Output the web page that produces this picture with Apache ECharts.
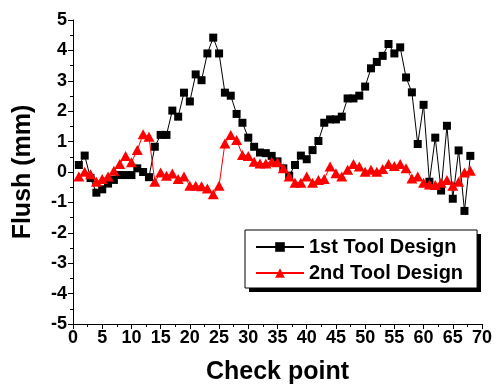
<!DOCTYPE html>
<html>
<head>
<meta charset="utf-8">
<script src="https://cdn.jsdelivr.net/npm/echarts@6/dist/echarts.min.js"></script>
<style>
html,body{margin:0;padding:0;background:#fff;}
#chart{width:496px;height:389px;}
</style>
</head>
<body>
<div id="chart"></div>
<script>
var checkPoints = [];
for (var i = 1; i <= 68; i++) checkPoints.push(i);

var tool1 = [0.23,0.54,-0.2,-0.68,-0.57,-0.38,-0.26,-0.1,-0.1,-0.1,
  0.12,0.0,-0.17,0.83,1.22,1.22,2.02,1.82,2.61,2.32,
  3.21,3.02,3.9,4.42,3.9,2.61,2.51,1.91,1.62,1.13,
  0.83,0.64,0.62,0.53,0.35,0.12,-0.12,0.23,0.54,0.42,
  0.72,1.02,1.62,1.73,1.73,1.82,2.42,2.42,2.51,2.81,
  3.41,3.62,3.82,4.21,3.9,4.1,3.11,2.62,0.92,2.21,
  -0.32,1.13,-0.61,1.52,-0.88,0.71,-1.28,0.53];

var tool2 = [-0.15,0.01,-0.07,-0.32,-0.23,-0.15,0.04,0.26,0.53,0.32,
  0.72,1.24,1.16,-0.32,-0.02,-0.12,-0.05,-0.23,-0.15,-0.45,
  -0.45,-0.47,-0.54,-0.73,-0.45,0.94,1.22,1.05,0.56,0.53,
  0.34,0.28,0.28,0.34,0.32,0.12,-0.15,-0.35,-0.35,-0.15,
  -0.35,-0.26,-0.23,0.18,-0.04,-0.15,0.07,0.26,0.18,0.01,
  0.07,0.01,0.1,0.26,0.2,0.26,0.12,-0.21,-0.15,-0.35,
  -0.41,-0.43,-0.35,-0.26,-0.45,-0.32,-0.02,0.04];

var seriesNames = ['1st Tool Design', '2nd Tool Design'];
var xTickMin = 0, xTickMax = 70, xTickStep = 5;
var yTickMin = -5, yTickMax = 5, yTickStep = 1;

function pairs(vals) {
  return checkPoints.map(function (x, i) { return [x, vals[i]]; });
}

var font = 'Liberation Sans, Arial, sans-serif';
var chart = echarts.init(document.getElementById('chart'), null, {renderer: 'canvas'});
chart.setOption({
  animation: false,
  backgroundColor: '#ffffff',
  grid: {left: 73, right: 14, top: 20, bottom: 65, containLabel: false, outerBoundsMode: 'none'},
  graphic: [{
    type: 'rect', left: 249, top: 234, z: 1, silent: true,
    shape: {width: 232, height: 58},
    style: {fill: '#000'}
  }],
  xAxis: {
    type: 'value', min: xTickMin, max: xTickMax, interval: xTickStep,
    name: 'Check point', nameLocation: 'middle', nameGap: 36,
    nameTextStyle: {fontFamily: font, fontWeight: 'bold', fontSize: 25, color: '#000'},
    axisLine: {show: true, onZero: false, lineStyle: {color: '#000', width: 1}},
    axisTick: {show: true, inside: false, length: 5, lineStyle: {color: '#000'}},
    minorTick: {show: true, splitNumber: 2, length: 3, lineStyle: {color: '#000'}},
    splitLine: {show: false},
    axisLabel: {fontFamily: font, fontWeight: 'bold', fontSize: 18, color: '#000', margin: 5}
  },
  yAxis: {
    type: 'value', min: yTickMin, max: yTickMax, interval: yTickStep,
    name: 'Flush (mm)', nameLocation: 'middle', nameGap: 37,
    nameTextStyle: {fontFamily: font, fontWeight: 'bold', fontSize: 25, color: '#000'},
    axisLine: {show: true, onZero: false, lineStyle: {color: '#000', width: 1}},
    axisTick: {show: true, inside: false, length: 5, lineStyle: {color: '#000'}},
    minorTick: {show: true, splitNumber: 2, length: 3, lineStyle: {color: '#000'}},
    splitLine: {show: false},
    axisLabel: {fontFamily: font, fontWeight: 'bold', fontSize: 18, color: '#000', margin: 6}
  },
  legend: {
    orient: 'vertical', left: 245, top: 230, z: 5,
    padding: [7, 14, 5, 10], itemGap: 6, itemWidth: 48, itemHeight: 12,
    backgroundColor: '#fff', borderColor: '#000', borderWidth: 1,
    textStyle: {fontFamily: font, fontWeight: 'bold', fontSize: 20, color: '#000'},
    data: seriesNames
  },
  series: [
    {
      name: seriesNames[0], type: 'line', data: pairs(tool1),
      symbol: 'rect', symbolSize: 8, color: '#000',
      lineStyle: {color: '#000', width: 1},
      itemStyle: {color: '#000'}, z: 2
    },
    {
      name: seriesNames[1], type: 'line', data: pairs(tool2),
      symbol: 'triangle', symbolSize: [11, 10], color: '#ff0000',
      lineStyle: {color: '#ff0000', width: 1},
      itemStyle: {color: '#ff0000'}, z: 3
    }
  ]
});
</script>
</body>
</html>
